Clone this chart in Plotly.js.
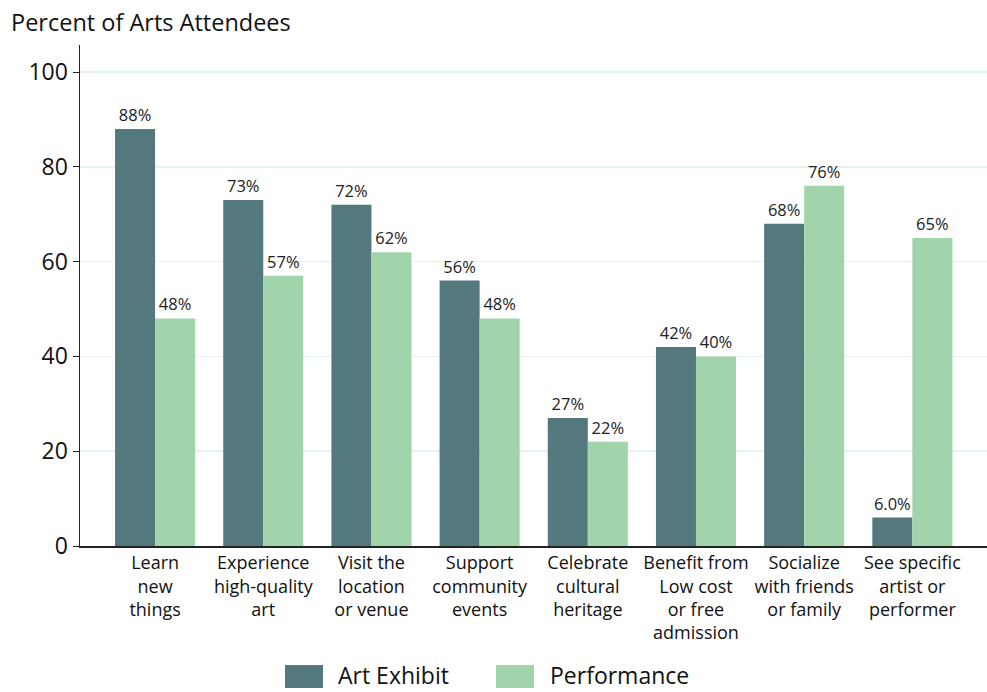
<!DOCTYPE html>
<html><head><meta charset="utf-8">
<script src="https://cdn.plot.ly/plotly-3.0.1.min.js"></script>
<style>html,body{margin:0;padding:0;background:#fff}#chart{width:987px;height:692px}</style>
</head><body><div id="chart"></div>
<script>
const categories = ["Learn<br>new<br>things","Experience<br>high-quality<br>art","Visit the<br>location<br>or venue","Support<br>community<br>events","Celebrate<br>cultural<br>heritage","Benefit from<br>Low cost<br>or free<br>admission","Socialize<br>with friends<br>or family","See specific<br>artist or<br>performer"];
const seriesNames = ["Art Exhibit","Performance"];
const artExhibit = [88, 73, 72, 56, 27, 42, 68, 6.0];
const performance = [48, 57, 62, 48, 22, 40, 76, 65];
const artLabels = ["88%","73%","72%","56%","27%","42%","68%","6.0%"];
const perfLabels = ["48%","57%","62%","48%","22%","40%","76%","65%"];
const yTicks = [0,20,40,60,80,100];

const colors = ["#53787e","#a1d4aa"];
const font = "Open Sans, Noto Sans, sans-serif";
const xs = categories.map((c,i)=>i);

const traces = [
  {type:"bar", name:seriesNames[0], x:xs, y:artExhibit, text:artLabels, textposition:"outside",
   marker:{color:colors[0]}, textfont:{size:16.5,color:"#222",family:font}, cliponaxis:false, hoverinfo:"y"},
  {type:"bar", name:seriesNames[1], x:xs, y:performance, text:perfLabels, textposition:"outside",
   marker:{color:colors[1]}, textfont:{size:16.5,color:"#222",family:font}, cliponaxis:false, hoverinfo:"y"}
];

const layout = {
  width:987, height:692,
  margin:{l:80, r:0, t:45, b:146},
  barmode:"group", bargap:0.26, bargroupgap:0,
  showlegend:false,
  paper_bgcolor:"#fff", plot_bgcolor:"#fff",
  font:{family:font, color:"#111"},
  xaxis:{tickmode:"array", tickvals:xs, ticktext:categories, range:[-0.694,7.69],
    showline:true, linecolor:"#222", linewidth:1.5, ticks:"", showgrid:false, zeroline:false,
    tickfont:{size:18, color:"#111", family:font}},
  yaxis:{range:[0,105.7], tickvals:yTicks, showline:true, linecolor:"#222", linewidth:1.5,
    ticks:"outside", ticklen:6, tickcolor:"#222", gridcolor:"#e8f1f4", gridwidth:1.5, zeroline:false,
    tickfont:{size:23, color:"#111", family:font}},
  annotations:[
    {text:"Percent of Arts Attendees", xref:"paper", yref:"paper", x:-(80-9)/907, y:(546-22)/501, xanchor:"left", yanchor:"middle",
     showarrow:false, font:{size:23.5, color:"#111", family:font}},
    {text:seriesNames[0], xref:"paper", yref:"paper", x:(336-80)/907, y:-(675-546)/501, xanchor:"left", yanchor:"middle",
     showarrow:false, font:{size:23, color:"#111", family:font}},
    {text:seriesNames[1], xref:"paper", yref:"paper", x:(548-80)/907, y:-(675-546)/501, xanchor:"left", yanchor:"middle",
     showarrow:false, font:{size:23, color:"#111", family:font}}
  ],
  shapes:[
    {type:"rect", xref:"paper", yref:"paper", x0:(285-80)/907, x1:(323-80)/907, y0:-(688-546)/501, y1:-(665-546)/501,
     fillcolor:colors[0], line:{width:0}},
    {type:"rect", xref:"paper", yref:"paper", x0:(496-80)/907, x1:(534-80)/907, y0:-(688-546)/501, y1:-(665-546)/501,
     fillcolor:colors[1], line:{width:0}}
  ]
};
Plotly.newPlot("chart", traces, layout, {displayModeBar:false, staticPlot:true});
</script></body></html>
